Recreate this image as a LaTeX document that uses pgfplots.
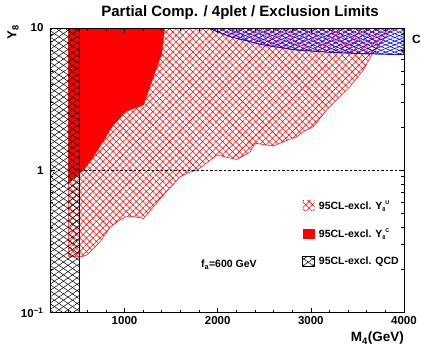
\documentclass[border=0pt]{standalone}
\usepackage{fontspec}
\setmainfont{Liberation Sans}
\usepackage{pgfplots}
\pgfplotsset{compat=1.18}
\usetikzlibrary{patterns.meta}
\newcommand\subsup[2]{\raisebox{-2.2pt}{\fontsize{5.5}{6}\selectfont #1}\raisebox{4.8pt}{\fontsize{5.5}{6}\selectfont #2}}
\begin{document}
\begin{tikzpicture}[x=1pt,y=1pt]
\clip (0,0) rectangle (421,351);
\begin{axis}[
 at={(50pt,38.5pt)}, anchor=south west, scale only axis,
 width=354pt, height=284.5pt,
 xmin=200, xmax=4000, ymin=0.1, ymax=10, ymode=log,
 xtick={1000,2000,3000,4000}, xticklabels={1000,2000,3000,4000},
 minor xtick={400,600,...,3800},
 ytick={0.1,1,10}, yticklabels={10\textsuperscript{−1},1,10},
 minor ytick={0.2,0.3,0.4,0.5,0.6,0.7,0.8,0.9,2,3,4,5,6,7,8,9},
 tick label style={font=\bfseries\fontsize{11.5}{12}\selectfont},
 yticklabel style={xshift=-3pt},
 tick align=inside,
 major tick length=5pt, minor tick length=3pt,
 every tick/.style={black, line width=0.6pt},
 axis line style={line width=0.8pt},
 axis on top,
 legend image code/.code={\path[#1,draw=none] (0pt,-5pt) rectangle (12pt,5pt);},
 legend style={at={(axis description cs:0.712,0.398)}, anchor=north west,
   draw=none, fill=none, inner sep=0pt, row sep=16pt,
   font=\bfseries\fontsize{10.5}{12}\selectfont,
   nodes={inner sep=1pt},
   /tikz/every odd column/.append style={column sep=3pt}},
 legend cell align=left,
]
% Y8^U excluded region (red cross-hatch)
\addplot[draw=red, line width=0.5pt,
  pattern={Hatch[angle=45,distance=4.7pt,line width=0.55pt]}, pattern color=red]
 coordinates {(400,10) (400,0.247) (543,0.247) (597,0.254) (740,0.315) (847,0.40)
  (954,0.448) (1007,0.47) (1096,0.472) (1204,0.458) (1418,0.67) (1597,0.90)
  (1700,0.97) (1775,1.0) (1846,1.08) (1990,1.28) (2204,1.19) (2347,1.34)
  (2400,1.55) (2597,1.48) (2779,1.66) (2847,1.71) (2918,1.87) (3025,2.02)
  (3168,2.65) (3293,3.2) (3420,3.87) (3563,5.07) (3652,6.46) (3780,8.3) (3880,10)} -- cycle;
\addlegendentry{95CL-excl. Y\subsup{8}{U}}
% Y8^C excluded region (solid red)
\addplot[draw=red, fill=red, line width=0.4pt]
 coordinates {(400,10) (400,0.81) (500,0.93) (561,1.0) (668,1.25) (865,2.02)
  (1007,2.58) (1133,2.77) (1204,2.88) (1311,4.55) (1400,6.64) (1430,10)} -- cycle;
\addlegendentry{95CL-excl. Y\subsup{8}{C}}
% blue region
\addplot[forget plot, draw=blue, line width=0.6pt,
  pattern={Lines[angle=22,distance=3.4pt,line width=0.6pt]}, pattern color=blue,
  postaction={pattern={Lines[angle=-22,distance=3.4pt,line width=0.6pt]}, pattern color=blue}]
 coordinates {(1900,10) (2133,8.69) (2490,7.6) (2847,7.0) (3204,6.75) (3561,6.6)
  (4000,6.5) (4000,10)} -- cycle;
% QCD excluded region
\addplot[draw=black, line width=0.7pt,
  pattern={Lines[angle=35,distance=5.2pt,line width=0.5pt]}, pattern color=black,
  postaction={pattern={Lines[angle=-35,distance=5.2pt,line width=0.5pt]}, pattern color=black}]
 coordinates {(200,0.1) (520,0.1) (520,10) (200,10)} -- cycle;
\addlegendentry{95CL-excl. QCD}
% Y=1 dashed line
\addplot[forget plot, black, line width=0.5pt, dash pattern=on 2.5pt off 2pt]
 coordinates {(520,1) (4000,1)};
\node[font=\bfseries\fontsize{10.5}{12}\selectfont] at (axis cs:2120,0.216)
 {f\textsubscript{a}=600 GeV};
\end{axis}
\node[font=\bfseries\fontsize{15}{17}\selectfont] at (240,338)
 {Partial Comp. / 4plet / Exclusion Limits};
\node[anchor=north east, inner sep=0pt, font=\bfseries\fontsize{13.5}{15}\selectfont]
 at (404,19) {M\textsubscript{4}(GeV)};
\node[rotate=90, inner sep=0pt, font=\bfseries\fontsize{13}{14}\selectfont]
 at (13,318.5) {Y\textsubscript{8}};
\node[anchor=west, inner sep=0pt, font=\bfseries\fontsize{12}{14}\selectfont]
 at (412,312) {C};
\end{tikzpicture}
\end{document}
